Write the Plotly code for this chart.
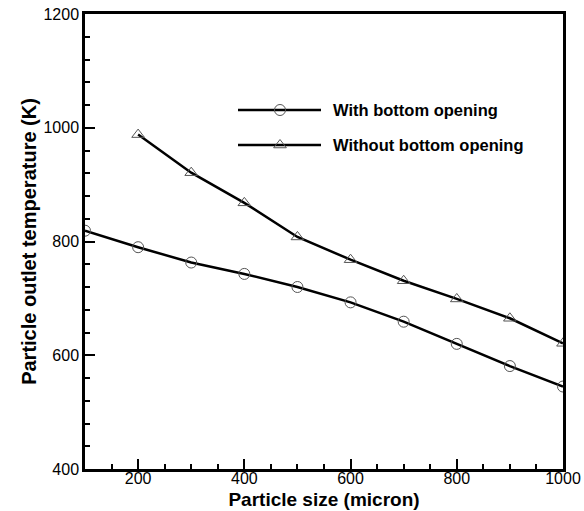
import plotly.graph_objects as go

particle_size = [100, 200, 300, 400, 500, 600, 700, 800, 900, 1000]
with_opening = [819, 790, 763, 743, 720, 693, 659, 620, 581, 545]

size_without = [200, 300, 400, 500, 600, 700, 800, 900, 1000]
without_opening = [988, 921, 868, 808, 768, 731, 699, 665, 621]

series_names = ["With bottom opening", "Without bottom opening"]
x_ticks = [200, 400, 600, 800, 1000]
y_ticks = [400, 600, 800, 1000, 1200]
x_range = [100, 1000]
y_range = [400, 1200]

W, H = 584, 511
L, R, T, B = 85, 21, 14, 42
pw, ph = W - L - R, H - T - B

def px2x(x):
    # pixel column -> value on the (shared) x scale, for the hand-made legend
    return x_range[0] + (x - L) / pw * (x_range[1] - x_range[0])

def px2paper_y(y):
    return (H - B - y) / ph

FONT = "Liberation Sans, Arial"

fig = go.Figure()

fig.add_trace(go.Scatter(
    x=particle_size, y=with_opening, mode="lines+markers",
    line=dict(color="black", width=2.5),
    marker=dict(symbol="circle-open", size=11, color="#555", line=dict(width=1)),
    showlegend=False))
fig.add_trace(go.Scatter(
    x=size_without, y=without_opening, mode="lines+markers",
    line=dict(color="black", width=2.5),
    marker=dict(symbol="triangle-up-open", size=11, color="#555", line=dict(width=1)),
    showlegend=False))

# manual legend drawn on overlay axes
leg_rows = [(110, "circle-open", series_names[0]), (145, "triangle-up-open", series_names[1])]
for py, sym, name in leg_rows:
    yy = px2paper_y(py)
    fig.add_trace(go.Scatter(x=[px2x(238), px2x(321)], y=[yy, yy], mode="lines",
                             line=dict(color="black", width=2.5),
                             xaxis="x2", yaxis="y2", showlegend=False, hoverinfo="skip"))
    fig.add_trace(go.Scatter(x=[px2x(280)], y=[yy], mode="markers",
                             marker=dict(symbol=sym, size=11, color="#555", line=dict(width=1)),
                             xaxis="x2", yaxis="y2", showlegend=False, hoverinfo="skip"))
    fig.add_annotation(x=(331 - L) / pw, y=yy, xref="paper", yref="paper", text="<b>" + name + "</b>",
                       showarrow=False, xanchor="left", yanchor="middle",
                       font=dict(family=FONT, size=16.5, color="black"))

axis_common = dict(
    showline=True, linecolor="black", linewidth=2.5, mirror=True,
    ticks="inside", ticklen=10, tickwidth=2, tickcolor="black",
    showgrid=False, zeroline=False, automargin=False,
    tickfont=dict(family=FONT, size=16, color="black"),
)

fig.update_layout(
    width=W, height=H,
    margin=dict(l=L, r=R, t=T, b=B),
    paper_bgcolor="white", plot_bgcolor="white",
    xaxis=dict(range=x_range, tickvals=x_ticks, showticklabels=False,
               minor=dict(ticks="inside", dtick=50, tick0=100, ticklen=5, tickwidth=1.5, tickcolor="black"),
               **axis_common),
    # overlay axis carrying the x tick labels and title
    xaxis2=dict(range=x_range, tickvals=x_ticks, overlaying="x", anchor="free",
                position=2.5 / ph, side="bottom", showline=False, ticks="", showgrid=False,
                zeroline=False, automargin=False, fixedrange=True,
                tickfont=dict(family=FONT, size=16, color="black"),
                title=dict(text="<b>Particle size (micron)</b>", standoff=7,
                           font=dict(family=FONT, size=19, color="black"))),
    yaxis=dict(range=y_range, tickvals=y_ticks,
               minor=dict(ticks="inside", dtick=40, tick0=400, ticklen=5, tickwidth=1.5, tickcolor="black"),
               title=dict(text="<b>Particle outlet temperature (K)</b>", standoff=2,
                          font=dict(family=FONT, size=20, color="black")),
               **axis_common),
    yaxis2=dict(range=[0, 1], overlaying="y", visible=False, fixedrange=True),
)

fig.write_html("out.html", config={"displayModeBar": False},
               post_script="document.body.style.margin='0';document.body.style.overflow='hidden';")
